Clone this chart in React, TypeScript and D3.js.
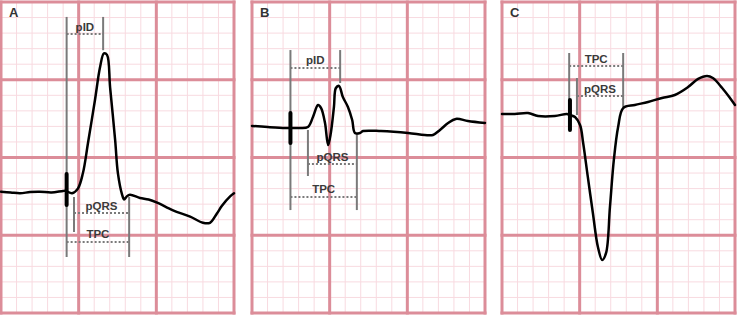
import React from "react";
import * as d3 from "d3";

// x: time in ms (1 small box = 40 ms), y: amplitude in mV (1 small box = 0.1 mV)
const panelLabels = ["A", "B", "C"];

const traceA: [number, number][] = [
  [0, -0.22], [25, -0.225], [49, -0.23], [75, -0.222], [100, -0.22], [130, -0.225], [160, -0.215], [167, -0.215],
  [183, -0.23], [198, -0.2], [211, -0.1], [224, 0.093], [242, 0.37], [255, 0.58], [265, 0.67], [273, 0.66],
  [281, 0.45], [294, 0.11], [301, -0.1], [312, -0.24], [317, -0.27], [324, -0.25], [332, -0.24], [358, -0.26],
  [380, -0.27], [402, -0.29], [443, -0.34], [487, -0.38], [520, -0.42], [538, -0.42], [556, -0.36], [569, -0.31],
  [590, -0.25], [600, -0.23],
];
const traceB: [number, number][] = [
  [0, 0.203], [41, 0.196], [85, 0.19], [98, 0.19], [118, 0.19], [144, 0.196], [157, 0.26], [170, 0.338],
  [178, 0.318], [188, 0.222], [196, 0.08], [203, 0.158], [211, 0.325], [216, 0.447], [224, 0.46], [234, 0.389],
  [247, 0.325], [258, 0.241], [265, 0.158], [278, 0.158], [286, 0.17], [332, 0.17], [402, 0.158], [445, 0.145],
  [466, 0.145], [484, 0.177], [505, 0.222], [525, 0.248], [556, 0.235], [600, 0.222],
];
const traceC: [number, number][] = [
  [0, 0.28], [33, 0.28], [67, 0.286], [93, 0.267], [136, 0.267], [167, 0.28], [175, 0.273], [188, 0.26],
  [201, 0.209], [209, 0.093], [221, -0.125], [234, -0.357], [247, -0.576], [258, -0.659], [268, -0.614],
  [278, -0.318], [288, -0.016], [299, 0.196], [312, 0.318], [342, 0.338], [376, 0.357], [412, 0.383],
  [445, 0.402], [479, 0.453], [505, 0.505], [528, 0.524], [543, 0.511], [567, 0.447], [587, 0.383], [600, 0.338],
];
const traces = [traceA, traceB, traceC];

// stimulus spike: [time, top mV, bottom mV]
const spikes: [number, number, number][] = [
  [169, -0.106, -0.305],
  [99, 0.286, 0.093],
  [175, 0.37, 0.177],
];

// vertical marker lines: [time, top mV, bottom mV]
const markersA: [number, number, number][] = [
  [169, 0.904, -0.64], [263, 0.904, 0.69], [188, -0.254, -0.479], [330, -0.254, -0.64],
];
const markersB: [number, number, number][] = [
  [99, 0.691, -0.338], [227, 0.691, 0.479], [144, 0.177, -0.119], [270, 0.158, -0.338],
];
const markersC: [number, number, number][] = [
  [173, 0.672, 0.19], [312, 0.672, 0.325], [193, 0.511, 0.273],
];
const markers = [markersA, markersB, markersC];

// interval brackets: [label, start ms, end ms, level mV]
const intervalsA: [string, number, number, number][] = [
  ["pID", 169, 263, 0.794], ["pQRS", 188, 330, -0.357], ["TPC", 169, 330, -0.543],
];
const intervalsB: [string, number, number, number][] = [
  ["pID", 99, 227, 0.576], ["pQRS", 144, 270, -0.042], ["TPC", 99, 270, -0.254],
];
const intervalsC: [string, number, number, number][] = [
  ["TPC", 173, 312, 0.588], ["pQRS", 193, 312, 0.395],
];
const intervals = [intervalsA, intervalsB, intervalsC];

const panelLefts = [1, 252, 502];
const PW = 233;
const PH = 311;
const TOP = 2;

const minorTimes = d3.range(0, 601, 40);
const minorVolts = d3.range(-10, 11).map((v) => v / 10);
const majorTimes = d3.range(0, 601, 200);
const majorVolts = [-1, -0.5, 0, 0.5, 1];

const MINOR = "#f8dae0";
const MAJOR = "#dc8d99";
const MARK = "#7a7a7a";
const FONT = "'Liberation Sans', Arial, sans-serif";

function Panel({ idx }: { idx: number }) {
  const left = panelLefts[idx];
  const x = d3.scaleLinear().domain([0, 600]).range([left, left + PW]);
  const y = d3.scaleLinear().domain([-1, 1]).range([TOP + PH, TOP]);
  const line = d3
    .line<[number, number]>()
    .x((d) => x(d[0]))
    .y((d) => y(d[1]))
    .curve(d3.curveCatmullRom.alpha(0.5));
  const sp = spikes[idx];
  return (
    <g>
      {minorTimes.map((t) => (
        <line key={"mt" + t} x1={x(t)} x2={x(t)} y1={y(1)} y2={y(-1)} stroke={MINOR} strokeWidth={1} />
      ))}
      {minorVolts.map((v) => (
        <line key={"mv" + v} x1={x(0)} x2={x(600)} y1={y(v)} y2={y(v)} stroke={MINOR} strokeWidth={1} />
      ))}
      {majorTimes.map((t) => (
        <line key={"Mt" + t} x1={x(t)} x2={x(t)} y1={y(1) - 1.5} y2={y(-1) + 1.5} stroke={MAJOR} strokeWidth={3} />
      ))}
      {majorVolts.map((v) => (
        <line key={"Mv" + v} x1={x(0) - 1.5} x2={x(600) + 1.5} y1={y(v)} y2={y(v)} stroke={MAJOR} strokeWidth={3} />
      ))}
      {markers[idx].map((m, i) => (
        <line key={"mk" + i} x1={x(m[0])} x2={x(m[0])} y1={y(m[1])} y2={y(m[2])} stroke={MARK} strokeWidth={2} />
      ))}
      {intervals[idx].map((iv, i) => (
        <g key={"iv" + i}>
          <line
            x1={x(iv[1])}
            x2={x(iv[2])}
            y1={y(iv[3])}
            y2={y(iv[3])}
            stroke={MARK}
            strokeWidth={2}
            strokeDasharray="2,2"
          />
          <text
            x={(x(iv[1]) + x(iv[2])) / 2}
            y={y(iv[3]) - 3.5}
            textAnchor="middle"
            fontFamily={FONT}
            fontWeight="bold"
            fontSize={11.5}
            fill="#3a3a3a"
          >
            {iv[0]}
          </text>
        </g>
      ))}
      <path d={line(traces[idx]) || ""} fill="none" stroke="#000" strokeWidth={2.5} strokeLinejoin="round" strokeLinecap="round" />
      <line x1={x(sp[0])} x2={x(sp[0])} y1={y(sp[1])} y2={y(sp[2])} stroke="#000" strokeWidth={4} strokeLinecap="round" />
      <text x={left + 8} y={TOP + 15} fontFamily={FONT} fontWeight="bold" fontSize={13} fill="#333">
        {panelLabels[idx]}
      </text>
    </g>
  );
}

export default function App() {
  return (
    <svg width={738} height={315} style={{ position: "absolute", left: 0, top: 0, background: "#fff" }}>
      <rect x={0} y={0} width={738} height={315} fill="#fff" />
      {[0, 1, 2].map((i) => (
        <Panel key={i} idx={i} />
      ))}
    </svg>
  );
}
